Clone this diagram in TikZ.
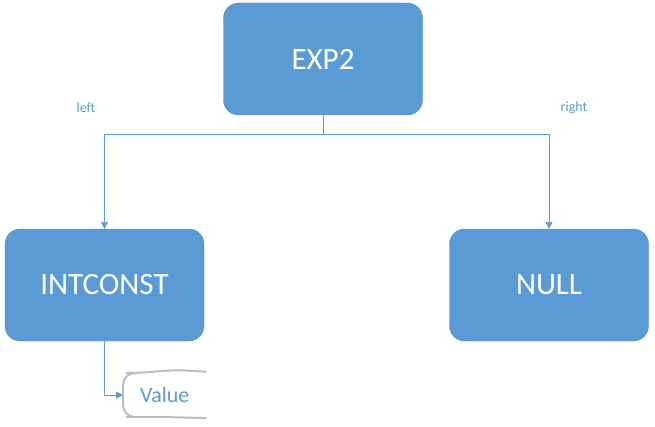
\documentclass[tikz,border=0pt]{standalone}
\usepackage{fontspec}
\setmainfont{Carlito}
\usepackage{xcolor}
\usetikzlibrary{calc}
\usetikzlibrary{arrows.meta}

\definecolor{boxblue}{HTML}{5B9BD5}
\definecolor{rimgray}{HTML}{BDBDBD}

\begin{document}
\begin{tikzpicture}[x=1pt,y=1pt,
        treebox/.style={rectangle,rounded corners=15pt,fill=boxblue,draw=boxblue!85!black,line width=0.3pt,
            minimum width=199pt,minimum height=112pt,text=white,font=\fontsize{31}{36}\selectfont},
        link/.style={draw=boxblue,line width=0.9pt},
        tip/.style={-{Triangle[width=7pt,length=7pt]}}]
            \useasboundingbox (0,0) rectangle (655,426);

            \node[treebox] (exp) at (323, 367) {EXP2};
            \node[treebox] (intc) at (104.5, 141) {INTCONST};
            \node[treebox] (null) at (549, 141) {NULL};

            \node[text=boxblue,font=\fontsize{14}{16}\selectfont] (lleft) at (86, 318) {left};
            \node[text=boxblue,font=\fontsize{14}{16}\selectfont] (lright) at (574, 318) {right};

            \node[anchor=west,minimum width=83pt,minimum height=46pt,inner xsep=14pt,
                  text=boxblue,font=\fontsize{22}{26}\selectfont] (val) at (123, 31) {Value};

            % bracket round the value
            \draw[rimgray,line width=2pt,rounded corners=12pt]
                (val.north east) .. controls ($(val.north east)+(-30,2)$) .. (138, 53)
                -- (123, 53) -- (123, 9) -- (138, 9)
                .. controls ($(val.south east)+(-30,1)$) .. (val.south east);

            \coordinate (split) at (323, 292);
            \draw[link] (exp.south) -- (split);
            \draw[link,tip] (split) -| (intc.north);
            \draw[link,tip] (split) -| (null.north);
            \draw[link,tip] (intc.south) |- (val.west);
        \end{tikzpicture}
\end{document}
